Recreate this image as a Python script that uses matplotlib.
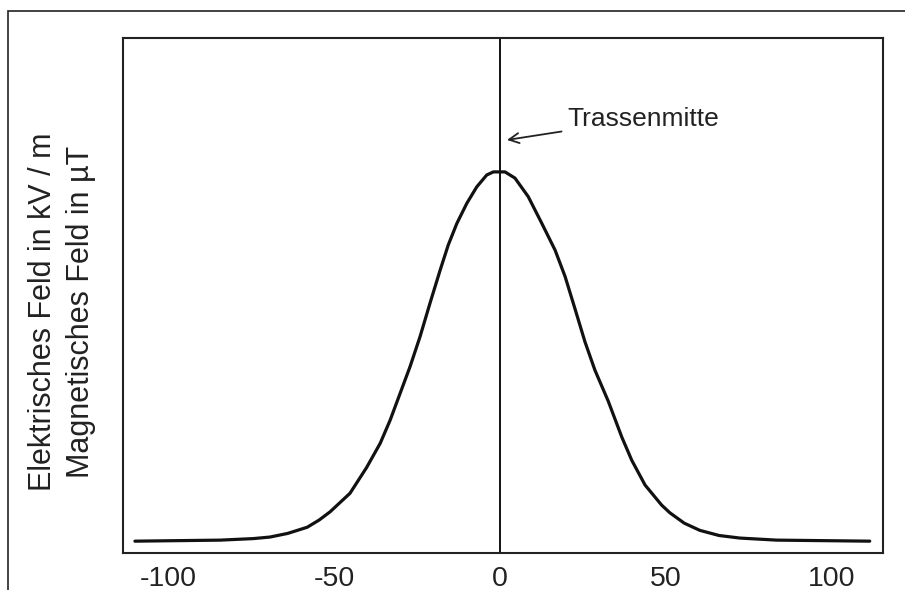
import matplotlib

matplotlib.use("Agg")

import matplotlib.patches as mpatches
import matplotlib.pyplot as plt

plt.rcParams["font.family"] = ["Liberation Sans", "DejaVu Sans"]

# Distance from the route centre (m) and relative field strength
distance = [-110.0, -84.3, -74.3, -69.3, -64.0, -58.1, -54.5, -51.2, -45.2,
            -40.2, -36.1, -33.1, -30.1, -27.1, -24.1, -21.1, -18.1, -15.6,
            -13.0, -10.0, -7.0, -4.0, -2.0, 0.0, 1.5, 4.5, 8.5, 12.6, 16.6,
            19.6, 22.6, 25.6, 28.6, 32.6, 36.7, 39.7, 43.7, 48.7, 51.2,
            55.5, 60.2, 66.0, 72.3, 83.4, 111.4]
field = [2.3, 2.5, 2.8, 3.1, 3.8, 5.0, 6.4, 8.0, 11.6,
         16.6, 21.3, 25.8, 31.0, 36.2, 42.0, 48.5, 54.8, 59.8,
         64.0, 67.9, 71.1, 73.4, 74.0, 74.0, 74.0, 72.8, 69.2, 64.0, 58.8,
         53.7, 47.4, 41.0, 35.5, 29.5, 22.5, 18.0, 13.2, 9.3, 7.8,
         5.8, 4.4, 3.4, 2.9, 2.5, 2.3]
xticks = [-100, -50, 0, 50, 100]

fig = plt.figure(figsize=(9.05, 5.9), dpi=100)
ax = fig.add_axes([0.1359, 0.0627, 0.8398, 0.8729])

# outer frame, cut off at right and bottom like the source image
frame = mpatches.Rectangle((8 / 905, -0.1), 1.2, 1 - 11 / 590 + 0.1,
                           transform=fig.transFigure, fill=False,
                           edgecolor="#222222", linewidth=1.2)
fig.patches.append(frame)

ax.axvline(0, color="black", lw=1.3, zorder=2)
ax.plot(distance, field, color="#111111", lw=2.3, zorder=3,
        solid_joinstyle="round", solid_capstyle="round")

ax.annotate("Trassenmitte", xy=(2.1, 80.2), xytext=(20.2, 84.3),
            fontsize=19, va="center", ha="left", color="#222222",
            arrowprops=dict(arrowstyle="->", color="#222222", lw=1.3,
                            mutation_scale=18, shrinkA=2, shrinkB=0))

ax.set_xlim(-113.6, 115.4)
ax.set_ylim(0, 100)
ax.set_xticks(xticks)
ax.set_xticklabels([str(t) for t in xticks])
ax.set_yticks([])
ax.tick_params(axis="x", length=0, pad=9, labelsize=20.5, labelcolor="#222222")
for spine in ax.spines.values():
    spine.set_linewidth(1.5)
    spine.set_color("#222222")

fig.text(0.048, 0.471, "Elektrisches Feld in kV / m", rotation=90,
         ha="center", va="center", fontsize=22, color="#222222")
fig.text(0.090, 0.471, "Magnetisches Feld in µT", rotation=90,
         ha="center", va="center", fontsize=22, color="#222222")

fig.savefig("out.png", dpi=100)
plt.close(fig)
